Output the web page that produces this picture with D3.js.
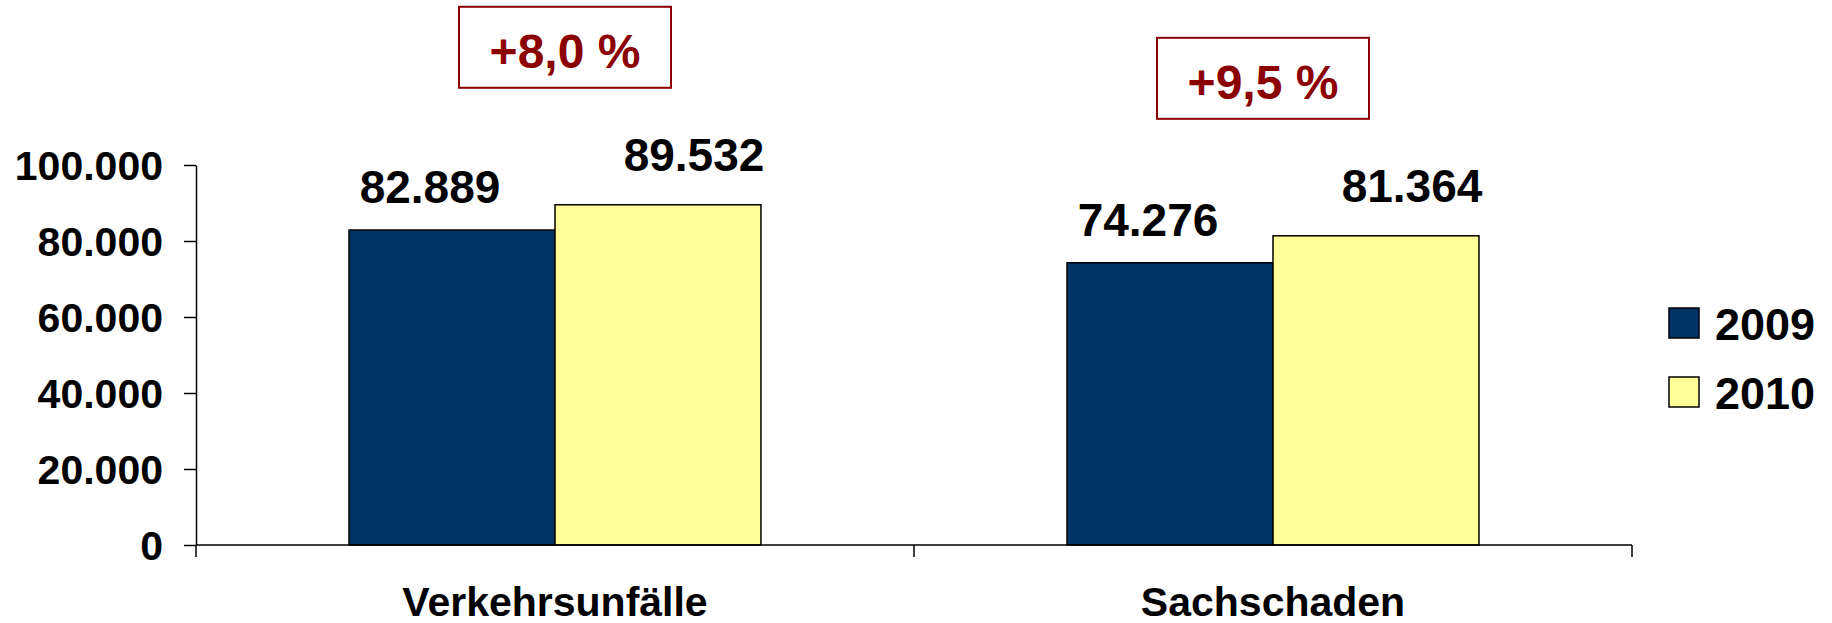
<!DOCTYPE html>
<html>
<head>
<meta charset="utf-8">
<script src="https://cdn.jsdelivr.net/npm/d3@7"></script>
<style>
  body { margin: 0; background: #fff; }
  svg text { font-family: "Liberation Sans", Arial, sans-serif; font-weight: bold; }
</style>
</head>
<body>
<svg id="chart" width="1832" height="623"></svg>
<script>
var categories = ["Verkehrsunfälle", "Sachschaden"];
var years = ["2009", "2010"];
var values2009 = [82889, 74276];
var values2010 = [89532, 81364];
var changeLabels = ["+8,0 %", "+9,5 %"];
var yTicks = [0, 20000, 40000, 60000, 80000, 100000];

var colors = {"2009": "#003366", "2010": "#ffff99"};
var red = "#8b0000";

var de = d3.formatLocale({decimal: ",", thousands: ".", grouping: [3], currency: ["", " €"]});
var fmt = de.format(",d");

var svg = d3.select("#chart");

// plot area (note: "top" is reserved on window, so use other names)
var plotLeft = 196, plotRight = 1632, plotTop = 165, plotBottom = 545;

var x0 = d3.scaleBand().domain(categories).range([plotLeft, plotRight]).padding(0);
var x1 = d3.scaleBand().domain(years).range([0, x0.bandwidth()]).paddingInner(0).paddingOuter(0.743);
var y = d3.scaleLinear().domain([0, 100000]).range([plotBottom, plotTop]);

var rows = categories.map(function (c, i) {
    return {cat: c, vals: [{year: "2009", v: values2009[i]}, {year: "2010", v: values2010[i]}], change: changeLabels[i]};
});

// y axis
var yAxis = svg.append("g")
    .attr("transform", "translate(" + plotLeft + ",0)")
    .call(d3.axisLeft(y).tickValues(yTicks).tickSize(12).tickSizeOuter(0).tickPadding(21).tickFormat(fmt));
yAxis.selectAll("path, line").attr("stroke", "#000").attr("stroke-width", 1.5);
yAxis.selectAll("text").attr("font-size", 41).attr("fill", "#000").attr("dy", "0.35em");

// bars
var groups = svg.selectAll("g.cat")
    .data(rows)
    .enter()
    .append("g")
    .attr("class", "cat")
    .attr("transform", function (d) { return "translate(" + x0(d.cat) + ",0)"; });

groups.selectAll("rect")
    .data(function (d) { return d.vals; })
    .enter()
    .append("rect")
    .attr("x", function (d) { return x1(d.year); })
    .attr("y", function (d) { return y(d.v); })
    .attr("width", x1.bandwidth())
    .attr("height", function (d) { return y(0) - y(d.v); })
    .attr("fill", function (d) { return colors[d.year]; })
    .attr("stroke", "#000")
    .attr("stroke-width", 1.5);

// value labels (2009 sits a bit left, 2010 a bit right, like the original)
var labelDx = {"2009": -22, "2010": 36};
var labelDy = {"2009": -27, "2010": -34};
groups.selectAll("text.val")
    .data(function (d) { return d.vals; })
    .enter()
    .append("text")
    .attr("class", "val")
    .attr("x", function (d) { return x1(d.year) + x1.bandwidth() / 2 + labelDx[d.year]; })
    .attr("y", function (d) { return y(d.v) + labelDy[d.year]; })
    .attr("text-anchor", "middle")
    .attr("font-size", 46)
    .attr("fill", "#000")
    .text(function (d) { return fmt(d.v); });

// change boxes, nudged a little toward the middle of the chart
var boxW = 212, boxH = 81;
groups.each(function (d, i) {
    var g = d3.select(this);
    var maxTop = y(d3.max(d.vals, function (v) { return v.v; }));
    var cx = x0.bandwidth() / 2 + (i == 0 ? 10 : -10);
    var by = maxTop - 117 - boxH;
    g.append("rect")
        .attr("x", cx - boxW / 2)
        .attr("y", by)
        .attr("width", boxW)
        .attr("height", boxH)
        .attr("fill", "#fff")
        .attr("stroke", red)
        .attr("stroke-width", 2);
    g.append("text")
        .attr("x", cx)
        .attr("y", by + boxH - 20)
        .attr("text-anchor", "middle")
        .attr("font-size", 48)
        .attr("fill", red)
        .text(d.change);
});

// x axis with ticks at category borders
var xAxis = svg.append("g");
xAxis.append("line")
    .attr("x1", plotLeft).attr("x2", plotRight)
    .attr("y1", y(0)).attr("y2", y(0))
    .attr("stroke", "#000").attr("stroke-width", 1.5);
var borders = [x0.range()[0]].concat(categories.map(function (c) { return x0(c) + x0.bandwidth(); }));
xAxis.selectAll("line.tick")
    .data(borders)
    .enter()
    .append("line")
    .attr("class", "tick")
    .attr("x1", function (d) { return d; }).attr("x2", function (d) { return d; })
    .attr("y1", y(0)).attr("y2", y(0) + 12)
    .attr("stroke", "#000").attr("stroke-width", 1.5);
xAxis.selectAll("text")
    .data(categories)
    .enter()
    .append("text")
    .attr("x", function (d) { return x0(d) + x0.bandwidth() / 2; })
    .attr("y", 616)
    .attr("text-anchor", "middle")
    .attr("font-size", 41)
    .attr("fill", "#000")
    .text(function (d) { return d; });

// legend
var legend = svg.append("g").attr("transform", "translate(1669,308)");
var items = legend.selectAll("g")
    .data(years)
    .enter()
    .append("g")
    .attr("transform", function (d, i) { return "translate(0," + (i * 69) + ")"; });
items.append("rect")
    .attr("width", 30).attr("height", 30)
    .attr("fill", function (d) { return colors[d]; })
    .attr("stroke", "#000").attr("stroke-width", 1.5);
items.append("text")
    .attr("x", 46)
    .attr("y", 32)
    .attr("font-size", 45)
    .attr("fill", "#000")
    .text(function (d) { return d; });
</script>
</body>
</html>
